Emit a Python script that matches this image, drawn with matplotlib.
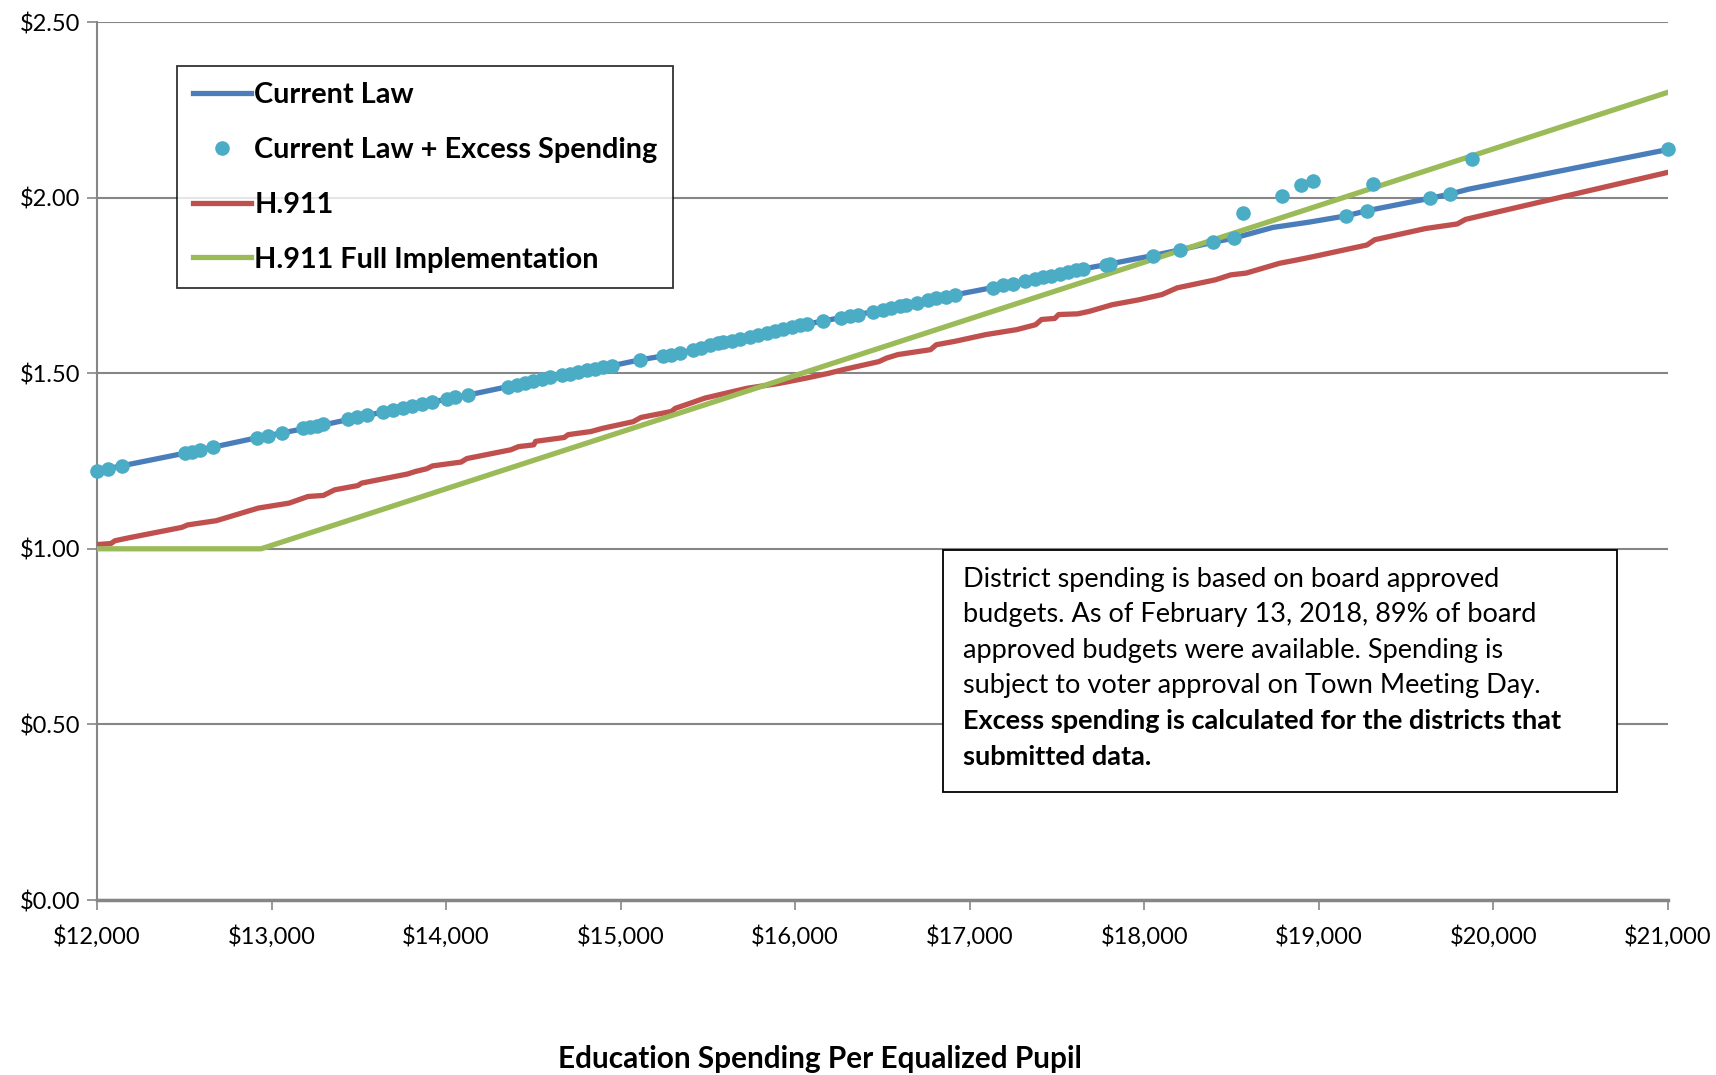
import matplotlib
matplotlib.use("Agg")
import matplotlib.pyplot as plt
from matplotlib.lines import Line2D
from matplotlib.patches import Rectangle
from matplotlib.ticker import FuncFormatter

plt.rcParams['font.family'] = ['Lato', 'DejaVu Sans']

# Current Law line (spending per pupil, tax rate)
law_x = [12000, 12150, 12500, 12915, 13300, 13754, 14127, 14356, 14662, 14948,
         15110, 15339, 15558, 15788, 16026, 16312, 16503, 16695, 16914, 17133,
         17315, 17649, 17790, 18050, 18203, 18394, 18508, 18736, 18942, 19156,
         19278, 19636, 19750, 19858, 21000]
law_y = [1.222, 1.237, 1.272, 1.316, 1.353, 1.402, 1.438, 1.462, 1.495, 1.521,
         1.538, 1.557, 1.585, 1.609, 1.636, 1.663, 1.680, 1.701, 1.723, 1.744,
         1.762, 1.797, 1.810, 1.835, 1.851, 1.873, 1.884, 1.915, 1.930, 1.948,
         1.963, 1.998, 2.010, 2.024, 2.137]

# Current Law + Excess Spending (districts)
dist_x = [12000, 12065, 12145, 12504, 12542, 12590, 12666, 12915, 12981, 13058,
          13182, 13220, 13258, 13296, 13439, 13487, 13545, 13640, 13697, 13754,
          13802, 13860, 13917, 14003, 14050, 14127, 14356, 14404, 14451, 14499,
          14547, 14595, 14662, 14709, 14757, 14805, 14852, 14900, 14948, 15110,
          15243, 15291, 15339, 15415, 15463, 15511, 15558, 15587, 15635, 15683,
          15741, 15788, 15836, 15883, 15931, 15979, 16026, 16065, 16160, 16265,
          16312, 16360, 16446, 16503, 16551, 16599, 16637, 16695, 16761, 16809,
          16866, 16914, 17133, 17191, 17248, 17315, 17372, 17420, 17468, 17515,
          17563, 17611, 17649, 17783, 17802, 18050, 18203, 18394, 18512, 18566,
          18791, 18900, 18967, 19156, 19278, 19309, 19636, 19750, 19879, 21000]
dist_y = [1.222, 1.228, 1.237, 1.272, 1.277, 1.282, 1.290, 1.316, 1.322, 1.330,
          1.343, 1.347, 1.351, 1.355, 1.369, 1.374, 1.380, 1.390, 1.396, 1.402,
          1.407, 1.413, 1.419, 1.426, 1.431, 1.438, 1.462, 1.467, 1.473, 1.478,
          1.483, 1.488, 1.495, 1.499, 1.504, 1.508, 1.513, 1.517, 1.521, 1.538,
          1.549, 1.553, 1.557, 1.567, 1.573, 1.579, 1.585, 1.588, 1.593, 1.598,
          1.604, 1.609, 1.614, 1.620, 1.625, 1.631, 1.636, 1.640, 1.648, 1.658,
          1.663, 1.667, 1.675, 1.680, 1.686, 1.691, 1.695, 1.701, 1.708, 1.713,
          1.718, 1.723, 1.744, 1.750, 1.755, 1.762, 1.768, 1.773, 1.778, 1.783,
          1.788, 1.793, 1.797, 1.809, 1.811, 1.835, 1.851, 1.873, 1.884, 1.955,
          2.005, 2.036, 2.048, 1.948, 1.963, 2.039, 1.998, 2.010, 2.109, 2.137]

# H.911
h911_x = [12000, 12080, 12103, 12179, 12486, 12519, 12683, 12924, 13100, 13209,
          13297, 13362, 13494, 13516, 13779, 13823, 13889, 13922, 14086, 14119,
          14371, 14415, 14502, 14513, 14677, 14699, 14830, 14896, 15072, 15116,
          15291, 15313, 15396, 15482, 15602, 15723, 15909, 16062, 16194, 16282,
          16479, 16523, 16588, 16775, 16808, 16917, 17093, 17268, 17377, 17411,
          17487, 17509, 17618, 17684, 17816, 17969, 18101, 18188, 18408, 18495,
          18583, 18775, 18869, 18968, 19275, 19320, 19612, 19793, 19840, 21000]
h911_y = [1.012, 1.015, 1.023, 1.031, 1.061, 1.068, 1.080, 1.116, 1.130, 1.149,
          1.152, 1.168, 1.180, 1.187, 1.213, 1.220, 1.228, 1.236, 1.247, 1.257,
          1.282, 1.291, 1.296, 1.306, 1.317, 1.325, 1.334, 1.343, 1.362, 1.374,
          1.391, 1.400, 1.414, 1.429, 1.443, 1.457, 1.471, 1.486, 1.500, 1.511,
          1.533, 1.543, 1.553, 1.567, 1.581, 1.591, 1.610, 1.624, 1.638, 1.653,
          1.656, 1.667, 1.669, 1.676, 1.695, 1.709, 1.724, 1.743, 1.766, 1.780,
          1.785, 1.813, 1.822, 1.832, 1.865, 1.880, 1.912, 1.925, 1.938, 2.072]

# H.911 Full Implementation
full_x = [12000, 12940, 21000]
full_y = [1.00, 1.00, 2.30]

x_ticks = [12000, 13000, 14000, 15000, 16000, 17000, 18000, 19000, 20000, 21000]
y_ticks = [0.0, 0.5, 1.0, 1.5, 2.0, 2.5]

note_lines = ["District spending is based on board approved",
              "budgets. As of February 13, 2018, 89% of board",
              "approved budgets were available. Spending is",
              "subject to voter approval on Town Meeting Day.",
              "Excess spending is calculated for the districts that",
              "submitted data."]

BLUE = "#4A7EBB"
DOTS = "#4BACC6"
RED = "#C0504D"
GREEN = "#9BBB59"
GRID = "#868686"

fig = plt.figure(figsize=(17.16, 10.75), dpi=100)
ax = fig.add_axes([97 / 1716, 175 / 1075, 1571 / 1716, 878 / 1075])

ax.plot(law_x, law_y, color=BLUE, lw=3.8, zorder=3, solid_capstyle="round")
ax.plot(h911_x, h911_y, color=RED, lw=3.8, zorder=3, solid_capstyle="round")
ax.plot(full_x, full_y, color=GREEN, lw=3.8, zorder=4, solid_capstyle="round")
ax.plot(dist_x, dist_y, linestyle="none", marker="o", markersize=10.5,
        color=DOTS, markeredgewidth=0, zorder=5, clip_on=False)

ax.set_xlim(12000, 21000)
ax.set_ylim(0, 2.5)
ax.set_xticks(x_ticks)
ax.set_yticks(y_ticks)
ax.xaxis.set_major_formatter(FuncFormatter(lambda v, p: "${:,.0f}".format(v)))
ax.yaxis.set_major_formatter(FuncFormatter(lambda v, p: "${:.2f}".format(v)))
ax.tick_params(axis="both", colors=GRID, labelcolor="black", labelsize=17,
               length=7, width=1.2)
ax.tick_params(axis="x", pad=11)
ax.tick_params(axis="y", pad=5)

ax.grid(axis="y", color=GRID, lw=1.5)
ax.set_axisbelow(True)
for side in ["top", "right"]:
    ax.spines[side].set_visible(False)
ax.spines["left"].set_color(GRID)
ax.spines["left"].set_linewidth(1.5)
ax.spines["bottom"].set_color(GRID)
ax.spines["bottom"].set_linewidth(2.5)

handles = [Line2D([], [], color=BLUE, lw=3.8),
           Line2D([], [], linestyle="none", marker="o", markersize=10.5,
                  color=DOTS, markeredgewidth=0),
           Line2D([], [], color=RED, lw=3.8),
           Line2D([], [], color=GREEN, lw=3.8)]
labels = ["Current Law", "Current Law + Excess Spending", "H.911",
          "H.911 Full Implementation"]
leg = fig.legend(handles, labels, loc="upper left",
                 bbox_to_anchor=(177 / 1716, 1 - 66 / 1075),
                 borderaxespad=0, fancybox=False, edgecolor="black",
                 prop={"weight": "bold", "size": 20.8}, handlelength=2.0,
                 handletextpad=0.12, labelspacing=1.0, borderpad=0.55)
leg.get_frame().set_linewidth(1.3)

# note box
fig.patches.append(Rectangle((943 / 1716, 1 - 792 / 1075), 674 / 1716,
                             242 / 1075, transform=fig.transFigure,
                             facecolor="white", edgecolor="black", lw=1.3,
                             zorder=6))
for i, line in enumerate(note_lines):
    fig.text(963 / 1716, 1 - (579 + i * 35.6) / 1075, line, fontsize=19.5,
             va="center", ha="left", zorder=7,
             fontweight="bold" if i >= 4 else "normal")

fig.text(820 / 1716, 1 - 1059 / 1075, "Education Spending Per Equalized Pupil",
         fontsize=21.4, fontweight="bold", ha="center", va="center")

fig.savefig("out.png", dpi=100)
